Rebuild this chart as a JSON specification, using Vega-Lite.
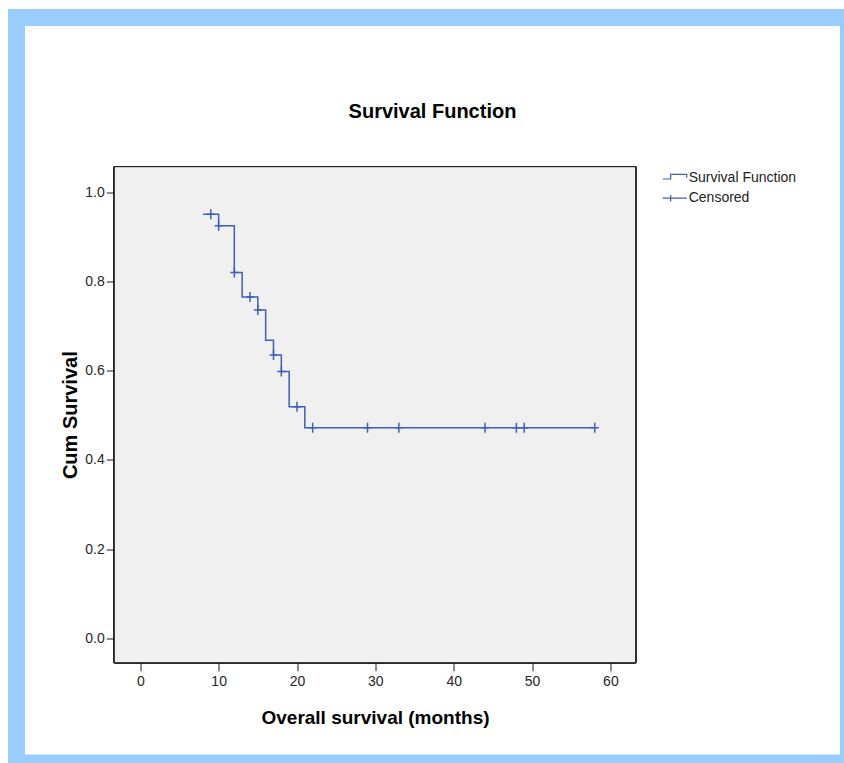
{
  "$schema": "https://vega.github.io/schema/vega-lite/v6.json",
  "autosize": "none",
  "width": 832,
  "height": 745.5,
  "padding": {"left": 16.5, "top": 17.5, "right": -4.5, "bottom": 0},
  "background": "white",
  "config": {
    "view": {"stroke": "#99ccff", "strokeWidth": 17, "fill": "white"},
    "font": "Liberation Sans"
  },
  "title": {
    "text": "Survival Function",
    "font": "Liberation Sans",
    "fontSize": 20,
    "fontWeight": "bold",
    "color": "#000000",
    "anchor": "middle",
    "frame": "group",
    "baseline": "middle",
    "offset": -114.5
  },
  "datasets": {
    "km": [
      {"t": 8, "s": 0.951},
      {"t": 10, "s": 0.925},
      {"t": 12, "s": 0.820},
      {"t": 13, "s": 0.765},
      {"t": 15, "s": 0.736},
      {"t": 16, "s": 0.668},
      {"t": 17, "s": 0.635},
      {"t": 18, "s": 0.598},
      {"t": 19, "s": 0.519},
      {"t": 21, "s": 0.472},
      {"t": 58, "s": 0.472}
    ],
    "censor": [
      {"t": 9, "s": 0.951, "series": "Censored"},
      {"t": 10, "s": 0.925, "series": "Censored"},
      {"t": 12, "s": 0.820, "series": "Censored"},
      {"t": 14, "s": 0.765, "series": "Censored"},
      {"t": 15, "s": 0.736, "series": "Censored"},
      {"t": 17, "s": 0.635, "series": "Censored"},
      {"t": 18, "s": 0.598, "series": "Censored"},
      {"t": 20, "s": 0.519, "series": "Censored"},
      {"t": 22, "s": 0.472, "series": "Censored"},
      {"t": 29, "s": 0.472, "series": "Censored"},
      {"t": 33, "s": 0.472, "series": "Censored"},
      {"t": 44, "s": 0.472, "series": "Censored"},
      {"t": 48, "s": 0.472, "series": "Censored"},
      {"t": 49, "s": 0.472, "series": "Censored"},
      {"t": 58, "s": 0.472, "series": "Censored"}
    ]
  },
  "layer": [
    {
      "data": {"name": "km"},
      "mark": {"type": "rect", "fill": "#f0f0f0", "stroke": "#1a1a1a", "strokeWidth": 1},
      "encoding": {
        "x": {"datum": -3.32, "type": "quantitative", "scale": {"domain": [-15.801, 90.389], "nice": false, "zero": false}},
        "x2": {"datum": 63.23},
        "y": {"datum": 1.0574, "type": "quantitative", "scale": {"domain": [-0.2796, 1.39193], "nice": false, "zero": false}},
        "y2": {"datum": -0.0547}
      }
    },
    {
      "data": {"name": "km"},
      "mark": {"type": "line", "interpolate": "step-after", "color": "#3f5fb9", "strokeWidth": 1.5},
      "encoding": {
        "x": {
          "field": "t", "type": "quantitative",
          "scale": {"domain": [-15.801, 90.389], "nice": false, "zero": false},
          "axis": {
            "title": "Overall survival (months)",
            "values": [0, 10, 20, 30, 40, 50, 60],
            "offset": -100.3,
            "domain": false, "grid": false,
            "tickSize": 8, "tickColor": "#1a1a1a", "tickWidth": 1,
            "labelFont": "Liberation Sans", "labelFontSize": 14, "labelColor": "#262626", "labelPadding": 4,
            "titleFont": "Liberation Sans", "titleFontSize": 19, "titleFontWeight": "bold", "titleColor": "#000000",
            "titleX": 358.5, "titleY": 54.5, "titleBaseline": "middle", "titleAlign": "center"
          }
        },
        "y": {
          "field": "s", "type": "quantitative",
          "scale": {"domain": [-0.2796, 1.39193], "nice": false, "zero": false},
          "axis": {
            "title": "Cum Survival",
            "values": [0, 0.2, 0.4, 0.6, 0.8, 1.0],
            "format": ".1f",
            "offset": -97.8,
            "domain": false, "grid": false,
            "tickSize": 8, "tickColor": "#1a1a1a", "tickWidth": 1,
            "labelFont": "Liberation Sans", "labelFontSize": 14, "labelColor": "#262626", "labelPadding": 2,
            "titleFont": "Liberation Sans", "titleFontSize": 20, "titleFontWeight": "bold", "titleColor": "#000000",
            "titleX": -44.3, "titleY": 397.2, "titleAngle": 270, "titleBaseline": "middle", "titleAlign": "center"
          }
        }
      }
    },
    {
      "data": {"name": "censor"},
      "mark": {"type": "point", "shape": "M-0.8,0H0.8M0,-1V1", "filled": false, "color": "#3f5fb9", "strokeWidth": 1.5, "size": 100, "opacity": 1},
      "encoding": {
        "x": {"field": "t", "type": "quantitative"},
        "y": {"field": "s", "type": "quantitative"}
      }
    },
    {
      "data": {"name": "censor"},
      "transform": [{"filter": "datum.t < 0"}],
      "mark": {"type": "point", "filled": false, "color": "#3f5fb9", "strokeWidth": 1.2, "opacity": 1},
      "encoding": {
        "x": {"field": "t", "type": "quantitative"},
        "y": {"field": "s", "type": "quantitative"},
        "shape": {
          "field": "series", "type": "nominal",
          "scale": {"domain": ["Survival Function", "Censored"], "range": ["M-2,0.25H-0.67V-0.53H2V0.03", "M-2,0H2M-0.67,-0.55V0.55"]},
          "legend": {
            "title": null,
            "orient": "none",
            "legendX": 651.2,
            "legendY": 153,
            "padding": 0,
            "symbolSize": 144,
            "symbolOffset": 0,
            "symbolStrokeWidth": 1.2,
            "symbolStrokeColor": "#3f5fb9",
            "symbolFillColor": "transparent",
            "symbolOpacity": 1,
            "labelFont": "Liberation Sans",
            "labelFontSize": 14,
            "labelColor": "#222222",
            "labelOffset": 7,
            "rowPadding": 6.7
          }
        }
      }
    }
  ]
}
